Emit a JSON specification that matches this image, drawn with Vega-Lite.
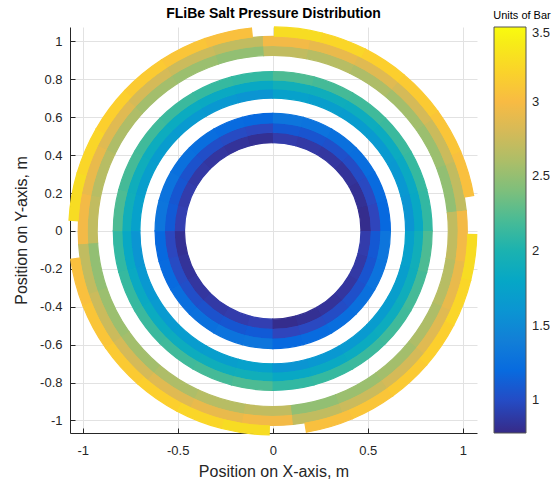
{
"$schema": "https://vega.github.io/schema/vega-lite/v6.json",
"width": 407, "height": 406,
"autosize": {"type": "none"},
"padding": {"left": 70, "top": 27, "right": 76, "bottom": 53},
"background": "white",
"title": {"text": "FLiBe Salt Pressure Distribution", "fontSize": 14, "fontWeight": "bold", "font": "Liberation Sans", "color": "#000000", "offset": -11, "anchor": "middle"},
"config": {
  "font": "Liberation Sans",
  "view": {"stroke": null},
  "axis": {"grid": true, "gridColor": "#e2e2e2", "gridWidth": 1, "domainColor": "#262626", "domainWidth": 1, "tickColor": "#262626", "tickSize": -5, "labelFontSize": 13, "labelColor": "#262626", "titleFontSize": 16, "titleFontWeight": "normal", "titleColor": "#262626", "labelFont": "Liberation Sans", "titleFont": "Liberation Sans", "labelExpr": "'' + datum.value"},
  "axisX": {"labelPadding": 16, "titlePadding": 6},
  "axisY": {"labelPadding": 13, "titlePadding": 10}
},
"data": {"values": [
{"r0":0.465,"r1":0.517,"a0":0,"a1":15,"p":0.80},
{"r0":0.465,"r1":0.517,"a0":15,"a1":30,"p":0.82},
{"r0":0.465,"r1":0.517,"a0":30,"a1":45,"p":0.84},
{"r0":0.465,"r1":0.517,"a0":45,"a1":60,"p":0.86},
{"r0":0.465,"r1":0.517,"a0":60,"a1":75,"p":0.88},
{"r0":0.465,"r1":0.517,"a0":75,"a1":90,"p":0.90},
{"r0":0.465,"r1":0.517,"a0":90,"a1":105,"p":0.82},
{"r0":0.465,"r1":0.517,"a0":105,"a1":120,"p":0.84},
{"r0":0.465,"r1":0.517,"a0":120,"a1":135,"p":0.86},
{"r0":0.465,"r1":0.517,"a0":135,"a1":150,"p":0.88},
{"r0":0.465,"r1":0.517,"a0":150,"a1":165,"p":0.90},
{"r0":0.465,"r1":0.517,"a0":165,"a1":180,"p":0.92},
{"r0":0.465,"r1":0.517,"a0":180,"a1":195,"p":0.82},
{"r0":0.465,"r1":0.517,"a0":195,"a1":210,"p":0.84},
{"r0":0.465,"r1":0.517,"a0":210,"a1":225,"p":0.86},
{"r0":0.465,"r1":0.517,"a0":225,"a1":240,"p":0.88},
{"r0":0.465,"r1":0.517,"a0":240,"a1":255,"p":0.90},
{"r0":0.465,"r1":0.517,"a0":255,"a1":270,"p":0.92},
{"r0":0.465,"r1":0.517,"a0":270,"a1":285,"p":0.80},
{"r0":0.465,"r1":0.517,"a0":285,"a1":300,"p":0.82},
{"r0":0.465,"r1":0.517,"a0":300,"a1":315,"p":0.84},
{"r0":0.465,"r1":0.517,"a0":315,"a1":330,"p":0.86},
{"r0":0.465,"r1":0.517,"a0":330,"a1":345,"p":0.88},
{"r0":0.465,"r1":0.517,"a0":345,"a1":360,"p":0.90},
{"r0":0.517,"r1":0.568,"a0":0,"a1":15,"p":0.96},
{"r0":0.517,"r1":0.568,"a0":15,"a1":30,"p":0.98},
{"r0":0.517,"r1":0.568,"a0":30,"a1":45,"p":1.00},
{"r0":0.517,"r1":0.568,"a0":45,"a1":60,"p":1.02},
{"r0":0.517,"r1":0.568,"a0":60,"a1":75,"p":1.04},
{"r0":0.517,"r1":0.568,"a0":75,"a1":90,"p":1.06},
{"r0":0.517,"r1":0.568,"a0":90,"a1":105,"p":0.97},
{"r0":0.517,"r1":0.568,"a0":105,"a1":120,"p":0.99},
{"r0":0.517,"r1":0.568,"a0":120,"a1":135,"p":1.01},
{"r0":0.517,"r1":0.568,"a0":135,"a1":150,"p":1.03},
{"r0":0.517,"r1":0.568,"a0":150,"a1":165,"p":1.05},
{"r0":0.517,"r1":0.568,"a0":165,"a1":180,"p":1.07},
{"r0":0.517,"r1":0.568,"a0":180,"a1":195,"p":0.97},
{"r0":0.517,"r1":0.568,"a0":195,"a1":210,"p":0.99},
{"r0":0.517,"r1":0.568,"a0":210,"a1":225,"p":1.01},
{"r0":0.517,"r1":0.568,"a0":225,"a1":240,"p":1.03},
{"r0":0.517,"r1":0.568,"a0":240,"a1":255,"p":1.05},
{"r0":0.517,"r1":0.568,"a0":255,"a1":270,"p":1.07},
{"r0":0.517,"r1":0.568,"a0":270,"a1":285,"p":0.96},
{"r0":0.517,"r1":0.568,"a0":285,"a1":300,"p":0.98},
{"r0":0.517,"r1":0.568,"a0":300,"a1":315,"p":1.00},
{"r0":0.517,"r1":0.568,"a0":315,"a1":330,"p":1.02},
{"r0":0.517,"r1":0.568,"a0":330,"a1":345,"p":1.04},
{"r0":0.517,"r1":0.568,"a0":345,"a1":360,"p":1.06},
{"r0":0.568,"r1":0.62,"a0":0,"a1":15,"p":1.18},
{"r0":0.568,"r1":0.62,"a0":15,"a1":30,"p":1.20},
{"r0":0.568,"r1":0.62,"a0":30,"a1":45,"p":1.22},
{"r0":0.568,"r1":0.62,"a0":45,"a1":60,"p":1.24},
{"r0":0.568,"r1":0.62,"a0":60,"a1":75,"p":1.27},
{"r0":0.568,"r1":0.62,"a0":75,"a1":90,"p":1.29},
{"r0":0.568,"r1":0.62,"a0":90,"a1":105,"p":1.18},
{"r0":0.568,"r1":0.62,"a0":105,"a1":120,"p":1.20},
{"r0":0.568,"r1":0.62,"a0":120,"a1":135,"p":1.22},
{"r0":0.568,"r1":0.62,"a0":135,"a1":150,"p":1.24},
{"r0":0.568,"r1":0.62,"a0":150,"a1":165,"p":1.27},
{"r0":0.568,"r1":0.62,"a0":165,"a1":180,"p":1.29},
{"r0":0.568,"r1":0.62,"a0":180,"a1":195,"p":1.18},
{"r0":0.568,"r1":0.62,"a0":195,"a1":210,"p":1.20},
{"r0":0.568,"r1":0.62,"a0":210,"a1":225,"p":1.22},
{"r0":0.568,"r1":0.62,"a0":225,"a1":240,"p":1.24},
{"r0":0.568,"r1":0.62,"a0":240,"a1":255,"p":1.27},
{"r0":0.568,"r1":0.62,"a0":255,"a1":270,"p":1.29},
{"r0":0.568,"r1":0.62,"a0":270,"a1":285,"p":1.18},
{"r0":0.568,"r1":0.62,"a0":285,"a1":300,"p":1.20},
{"r0":0.568,"r1":0.62,"a0":300,"a1":315,"p":1.22},
{"r0":0.568,"r1":0.62,"a0":315,"a1":330,"p":1.24},
{"r0":0.568,"r1":0.62,"a0":330,"a1":345,"p":1.27},
{"r0":0.568,"r1":0.62,"a0":345,"a1":360,"p":1.29},
{"r0":0.70,"r1":0.747,"a0":0,"a1":15,"p":1.60},
{"r0":0.70,"r1":0.747,"a0":15,"a1":30,"p":1.63},
{"r0":0.70,"r1":0.747,"a0":30,"a1":45,"p":1.65},
{"r0":0.70,"r1":0.747,"a0":45,"a1":60,"p":1.68},
{"r0":0.70,"r1":0.747,"a0":60,"a1":75,"p":1.70},
{"r0":0.70,"r1":0.747,"a0":75,"a1":90,"p":1.73},
{"r0":0.70,"r1":0.747,"a0":90,"a1":105,"p":1.60},
{"r0":0.70,"r1":0.747,"a0":105,"a1":120,"p":1.63},
{"r0":0.70,"r1":0.747,"a0":120,"a1":135,"p":1.65},
{"r0":0.70,"r1":0.747,"a0":135,"a1":150,"p":1.68},
{"r0":0.70,"r1":0.747,"a0":150,"a1":165,"p":1.70},
{"r0":0.70,"r1":0.747,"a0":165,"a1":180,"p":1.73},
{"r0":0.70,"r1":0.747,"a0":180,"a1":195,"p":1.60},
{"r0":0.70,"r1":0.747,"a0":195,"a1":210,"p":1.63},
{"r0":0.70,"r1":0.747,"a0":210,"a1":225,"p":1.65},
{"r0":0.70,"r1":0.747,"a0":225,"a1":240,"p":1.68},
{"r0":0.70,"r1":0.747,"a0":240,"a1":255,"p":1.70},
{"r0":0.70,"r1":0.747,"a0":255,"a1":270,"p":1.73},
{"r0":0.70,"r1":0.747,"a0":270,"a1":285,"p":1.60},
{"r0":0.70,"r1":0.747,"a0":285,"a1":300,"p":1.63},
{"r0":0.70,"r1":0.747,"a0":300,"a1":315,"p":1.65},
{"r0":0.70,"r1":0.747,"a0":315,"a1":330,"p":1.68},
{"r0":0.70,"r1":0.747,"a0":330,"a1":345,"p":1.70},
{"r0":0.70,"r1":0.747,"a0":345,"a1":360,"p":1.73},
{"r0":0.747,"r1":0.793,"a0":0,"a1":15,"p":1.82},
{"r0":0.747,"r1":0.793,"a0":15,"a1":30,"p":1.84},
{"r0":0.747,"r1":0.793,"a0":30,"a1":45,"p":1.86},
{"r0":0.747,"r1":0.793,"a0":45,"a1":60,"p":1.88},
{"r0":0.747,"r1":0.793,"a0":60,"a1":75,"p":1.90},
{"r0":0.747,"r1":0.793,"a0":75,"a1":90,"p":1.92},
{"r0":0.747,"r1":0.793,"a0":90,"a1":105,"p":1.82},
{"r0":0.747,"r1":0.793,"a0":105,"a1":120,"p":1.84},
{"r0":0.747,"r1":0.793,"a0":120,"a1":135,"p":1.86},
{"r0":0.747,"r1":0.793,"a0":135,"a1":150,"p":1.88},
{"r0":0.747,"r1":0.793,"a0":150,"a1":165,"p":1.90},
{"r0":0.747,"r1":0.793,"a0":165,"a1":180,"p":1.92},
{"r0":0.747,"r1":0.793,"a0":180,"a1":195,"p":1.82},
{"r0":0.747,"r1":0.793,"a0":195,"a1":210,"p":1.84},
{"r0":0.747,"r1":0.793,"a0":210,"a1":225,"p":1.86},
{"r0":0.747,"r1":0.793,"a0":225,"a1":240,"p":1.88},
{"r0":0.747,"r1":0.793,"a0":240,"a1":255,"p":1.90},
{"r0":0.747,"r1":0.793,"a0":255,"a1":270,"p":1.92},
{"r0":0.747,"r1":0.793,"a0":270,"a1":285,"p":1.82},
{"r0":0.747,"r1":0.793,"a0":285,"a1":300,"p":1.84},
{"r0":0.747,"r1":0.793,"a0":300,"a1":315,"p":1.86},
{"r0":0.747,"r1":0.793,"a0":315,"a1":330,"p":1.88},
{"r0":0.747,"r1":0.793,"a0":330,"a1":345,"p":1.90},
{"r0":0.747,"r1":0.793,"a0":345,"a1":360,"p":1.92},
{"r0":0.793,"r1":0.84,"a0":0,"a1":15,"p":2.11},
{"r0":0.793,"r1":0.84,"a0":15,"a1":30,"p":2.13},
{"r0":0.793,"r1":0.84,"a0":30,"a1":45,"p":2.15},
{"r0":0.793,"r1":0.84,"a0":45,"a1":60,"p":2.17},
{"r0":0.793,"r1":0.84,"a0":60,"a1":75,"p":2.19},
{"r0":0.793,"r1":0.84,"a0":75,"a1":90,"p":2.22},
{"r0":0.793,"r1":0.84,"a0":90,"a1":105,"p":2.11},
{"r0":0.793,"r1":0.84,"a0":105,"a1":120,"p":2.13},
{"r0":0.793,"r1":0.84,"a0":120,"a1":135,"p":2.15},
{"r0":0.793,"r1":0.84,"a0":135,"a1":150,"p":2.17},
{"r0":0.793,"r1":0.84,"a0":150,"a1":165,"p":2.19},
{"r0":0.793,"r1":0.84,"a0":165,"a1":180,"p":2.22},
{"r0":0.793,"r1":0.84,"a0":180,"a1":195,"p":2.11},
{"r0":0.793,"r1":0.84,"a0":195,"a1":210,"p":2.13},
{"r0":0.793,"r1":0.84,"a0":210,"a1":225,"p":2.15},
{"r0":0.793,"r1":0.84,"a0":225,"a1":240,"p":2.17},
{"r0":0.793,"r1":0.84,"a0":240,"a1":255,"p":2.19},
{"r0":0.793,"r1":0.84,"a0":255,"a1":270,"p":2.22},
{"r0":0.793,"r1":0.84,"a0":270,"a1":285,"p":2.11},
{"r0":0.793,"r1":0.84,"a0":285,"a1":300,"p":2.13},
{"r0":0.793,"r1":0.84,"a0":300,"a1":315,"p":2.15},
{"r0":0.793,"r1":0.84,"a0":315,"a1":330,"p":2.17},
{"r0":0.793,"r1":0.84,"a0":330,"a1":345,"p":2.19},
{"r0":0.793,"r1":0.84,"a0":345,"a1":360,"p":2.22},
{"r0":0.925,"r1":0.975,"a0":6,"a1":21,"p":2.48},
{"r0":0.925,"r1":0.975,"a0":21,"a1":35,"p":2.52},
{"r0":0.925,"r1":0.975,"a0":35,"a1":50,"p":2.56},
{"r0":0.925,"r1":0.975,"a0":50,"a1":64,"p":2.61},
{"r0":0.925,"r1":0.975,"a0":64,"a1":79,"p":2.65},
{"r0":0.925,"r1":0.975,"a0":79,"a1":93,"p":2.70},
{"r0":0.925,"r1":0.975,"a0":93,"a1":108,"p":2.48},
{"r0":0.925,"r1":0.975,"a0":108,"a1":123,"p":2.52},
{"r0":0.925,"r1":0.975,"a0":123,"a1":138,"p":2.56},
{"r0":0.925,"r1":0.975,"a0":138,"a1":154,"p":2.61},
{"r0":0.925,"r1":0.975,"a0":154,"a1":169,"p":2.65},
{"r0":0.925,"r1":0.975,"a0":169,"a1":184,"p":2.70},
{"r0":0.925,"r1":0.975,"a0":184,"a1":199,"p":2.48},
{"r0":0.925,"r1":0.975,"a0":199,"a1":215,"p":2.52},
{"r0":0.925,"r1":0.975,"a0":215,"a1":230,"p":2.56},
{"r0":0.925,"r1":0.975,"a0":230,"a1":245,"p":2.61},
{"r0":0.925,"r1":0.975,"a0":245,"a1":261,"p":2.65},
{"r0":0.925,"r1":0.975,"a0":261,"a1":276,"p":2.70},
{"r0":0.925,"r1":0.975,"a0":276,"a1":291,"p":2.48},
{"r0":0.925,"r1":0.975,"a0":291,"a1":306,"p":2.52},
{"r0":0.925,"r1":0.975,"a0":306,"a1":321,"p":2.56},
{"r0":0.925,"r1":0.975,"a0":321,"a1":336,"p":2.61},
{"r0":0.925,"r1":0.975,"a0":336,"a1":351,"p":2.65},
{"r0":0.925,"r1":0.975,"a0":351,"a1":366,"p":2.70},
{"r0":0.975,"r1":1.025,"a0":6,"a1":21,"p":2.70},
{"r0":0.975,"r1":1.025,"a0":21,"a1":35,"p":2.75},
{"r0":0.975,"r1":1.025,"a0":35,"a1":50,"p":2.80},
{"r0":0.975,"r1":1.025,"a0":50,"a1":64,"p":2.86},
{"r0":0.975,"r1":1.025,"a0":64,"a1":79,"p":2.91},
{"r0":0.975,"r1":1.025,"a0":79,"a1":93,"p":2.96},
{"r0":0.975,"r1":1.025,"a0":93,"a1":108,"p":2.70},
{"r0":0.975,"r1":1.025,"a0":108,"a1":123,"p":2.75},
{"r0":0.975,"r1":1.025,"a0":123,"a1":138,"p":2.80},
{"r0":0.975,"r1":1.025,"a0":138,"a1":154,"p":2.86},
{"r0":0.975,"r1":1.025,"a0":154,"a1":169,"p":2.91},
{"r0":0.975,"r1":1.025,"a0":169,"a1":184,"p":2.96},
{"r0":0.975,"r1":1.025,"a0":184,"a1":199,"p":2.70},
{"r0":0.975,"r1":1.025,"a0":199,"a1":215,"p":2.75},
{"r0":0.975,"r1":1.025,"a0":215,"a1":230,"p":2.80},
{"r0":0.975,"r1":1.025,"a0":230,"a1":245,"p":2.86},
{"r0":0.975,"r1":1.025,"a0":245,"a1":261,"p":2.91},
{"r0":0.975,"r1":1.025,"a0":261,"a1":276,"p":2.96},
{"r0":0.975,"r1":1.025,"a0":276,"a1":291,"p":2.70},
{"r0":0.975,"r1":1.025,"a0":291,"a1":306,"p":2.75},
{"r0":0.975,"r1":1.025,"a0":306,"a1":321,"p":2.80},
{"r0":0.975,"r1":1.025,"a0":321,"a1":336,"p":2.86},
{"r0":0.975,"r1":1.025,"a0":336,"a1":351,"p":2.91},
{"r0":0.975,"r1":1.025,"a0":351,"a1":366,"p":2.96},
{"r0":1.025,"r1":1.075,"a0":10,"a1":23,"p":3.04},
{"r0":1.025,"r1":1.075,"a0":23,"a1":36,"p":3.08},
{"r0":1.025,"r1":1.075,"a0":36,"a1":50,"p":3.13},
{"r0":1.025,"r1":1.075,"a0":50,"a1":63,"p":3.17},
{"r0":1.025,"r1":1.075,"a0":63,"a1":76,"p":3.22},
{"r0":1.025,"r1":1.075,"a0":76,"a1":89.5,"p":3.27},
{"r0":1.025,"r1":1.075,"a0":96,"a1":109.5,"p":3.04},
{"r0":1.025,"r1":1.075,"a0":109.5,"a1":123,"p":3.08},
{"r0":1.025,"r1":1.075,"a0":123,"a1":136.5,"p":3.13},
{"r0":1.025,"r1":1.075,"a0":136.5,"a1":150,"p":3.17},
{"r0":1.025,"r1":1.075,"a0":150,"a1":163.5,"p":3.22},
{"r0":1.025,"r1":1.075,"a0":163.5,"a1":177,"p":3.27},
{"r0":1.025,"r1":1.075,"a0":188,"a1":201.5,"p":3.04},
{"r0":1.025,"r1":1.075,"a0":201.5,"a1":215,"p":3.08},
{"r0":1.025,"r1":1.075,"a0":215,"a1":228.5,"p":3.13},
{"r0":1.025,"r1":1.075,"a0":228.5,"a1":242,"p":3.17},
{"r0":1.025,"r1":1.075,"a0":242,"a1":255.5,"p":3.22},
{"r0":1.025,"r1":1.075,"a0":255.5,"a1":269,"p":3.27},
{"r0":1.025,"r1":1.075,"a0":279.5,"a1":293,"p":3.04},
{"r0":1.025,"r1":1.075,"a0":293,"a1":306,"p":3.08},
{"r0":1.025,"r1":1.075,"a0":306,"a1":319,"p":3.13},
{"r0":1.025,"r1":1.075,"a0":319,"a1":332.5,"p":3.17},
{"r0":1.025,"r1":1.075,"a0":332.5,"a1":346,"p":3.22},
{"r0":1.025,"r1":1.075,"a0":346,"a1":359,"p":3.27}
]},
"encoding": {
  "x": {"datum": 0, "type": "quantitative", "scale": {"domain": [-1.067, 1.075], "nice": false, "zero": false}, "axis": {"title": "Position on X-axis, m", "values": [-1, -0.5, 0, 0.5, 1]}},
  "y": {"datum": 0, "type": "quantitative", "scale": {"domain": [-1.066, 1.076], "nice": false, "zero": false}, "axis": {"title": "Position on Y-axis, m", "values": [-1, -0.8, -0.6, -0.4, -0.2, 0, 0.2, 0.4, 0.6, 0.8, 1]}},
  "theta": {"field": "a0", "type": "quantitative", "stack": null, "scale": {"domain": [0, 360], "range": [1.5707963, -4.712389], "nice": false, "zero": false}},
  "theta2": {"field": "a1"},
  "radius": {"field": "r1", "type": "quantitative", "scale": {"type": "linear", "domain": [0, 1], "range": [0, 189.8], "nice": false, "zero": true}},
  "radius2": {"field": "r0"}
},
"layer": [
  {"mark": {"type": "arc", "filled": false, "strokeWidth": 1.2},
   "encoding": {"color": {"field": "p", "type": "quantitative",
    "scale": {"type": "linear", "domain": [0.78, 3.5], "range": ["#352A87","#3243BA","#0363E1","#0D75DC","#1485D4","#0998D1","#06A7C6","#15B1B4","#38B99E","#65BE86","#92BF73","#B7BD64","#D9BA56","#F8BA44","#FCCE2E","#F5E41D","#F9FB0E"], "nice": false, "zero": false, "interpolate": "rgb"},
    "legend": null}}},
  {"mark": {"type": "arc"},
   "encoding": {"color": {"field": "p", "type": "quantitative",
    "scale": {"type": "linear", "domain": [0.78, 3.5], "range": ["#352A87","#3243BA","#0363E1","#0D75DC","#1485D4","#0998D1","#06A7C6","#15B1B4","#38B99E","#65BE86","#92BF73","#B7BD64","#D9BA56","#F8BA44","#FCCE2E","#F5E41D","#F9FB0E"], "nice": false, "zero": false, "interpolate": "rgb"},
    "legend": {"type": "gradient", "title": "Units of Bar", "orient": "none", "legendX": 423, "legendY": -17, "direction": "vertical", "gradientLength": 406, "gradientThickness": 32, "gradientStrokeColor": "#555555", "gradientStrokeWidth": 1, "titleFontSize": 11, "titleFontWeight": "normal", "titleColor": "#000000", "titlePadding": 6, "titleAnchor": "middle", "labelFontSize": 13, "labelColor": "#262626", "labelOffset": 6, "labelBaseline": "middle", "labelOverlap": false, "labelExpr": "'' + datum.value", "values": [1, 1.5, 2, 2.5, 3, 3.5]}}}}
],
"resolve": {"legend": {"color": "independent"}}
}
